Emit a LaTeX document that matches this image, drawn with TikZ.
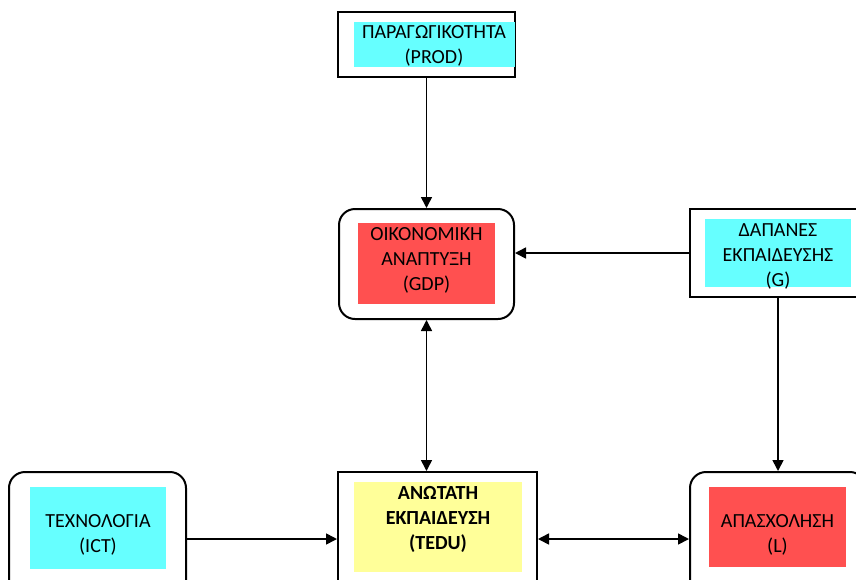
\documentclass[tikz,border=0pt]{standalone}
\usepackage{fontspec}
\setmainfont{Carlito}
\usetikzlibrary{arrows.meta}
\definecolor{cyanfill}{HTML}{66FFFF}
\definecolor{redfill}{HTML}{FF5050}
\definecolor{yellowfill}{HTML}{FFFF99}
\tikzset{
  outerbox/.style={draw=black, line width=2pt, fill=white, inner sep=0pt},
  roundbox/.style={outerbox, rounded corners=16pt},
  fillbox/.style={inner sep=0pt, draw=none},
  txt/.style={align=center, inner sep=0pt, font=\fontsize{20}{25}\selectfont},
  arr/.style={line width=1.6pt, -{Triangle[length=11pt,width=11pt]}},
  darr/.style={line width=1.6pt, {Triangle[length=11pt,width=11pt]}-{Triangle[length=11pt,width=11pt]}}
}
\begin{document}
\begin{tikzpicture}[x=1pt,y=-1pt]
\useasboundingbox (0,0) rectangle (856,579);
\clip (0,0) rectangle (856,579);
\fill[white] (0,0) rectangle (856,579);

% outer boxes
\node[outerbox, minimum width=177pt, minimum height=65pt] (prod) at (426.5,44.5) {};
\node[roundbox, minimum width=175pt, minimum height=110pt] (gdp) at (426.5,264) {};
\node[outerbox, minimum width=176pt, minimum height=88pt] (g) at (778,253) {};
\node[roundbox, minimum width=177pt, minimum height=134pt] (ict) at (97.5,539) {};
\node[outerbox, minimum width=199pt, minimum height=134pt] (tedu) at (437.5,539) {};
\node[roundbox, minimum width=176pt, minimum height=134pt] (l) at (778,539) {};

% coloured fills
\node[fillbox, fill=cyanfill, minimum width=161pt, minimum height=45pt] (prodfill) at (434.5,44.5) {};
\node[fillbox, fill=redfill, minimum width=137pt, minimum height=81pt] (gdpfill) at (426.5,263.5) {};
\node[fillbox, fill=cyanfill, minimum width=146pt, minimum height=68pt] (gfill) at (778,253) {};
\node[fillbox, fill=cyanfill, minimum width=136pt, minimum height=82pt] (ictfill) at (98,528) {};
\node[fillbox, fill=yellowfill, minimum width=168pt, minimum height=90pt] (tedufill) at (438,527) {};
\node[fillbox, fill=redfill, minimum width=137pt, minimum height=80pt] (lfill) at (777.5,527) {};

% texts
\node[txt] (prodtxt) at (434,45.5) {ΠΑΡΑΓΩΓΙΚΟΤΗΤΑ\\(PROD)};
\node[txt] (gdptxt) at (426.5,260) {ΟΙΚΟΝΟΜΙΚΗ\\ΑΝΑΠΤΥΞΗ\\(GDP)};
\node[txt] (gtxt) at (778,256) {ΔΑΠΑΝΕΣ\\ΕΚΠΑΙΔΕΥΣΗΣ\\(G)};
\node[txt] (icttxt) at (98,535) {ΤΕΧΝΟΛΟΓΙΑ\\(ICT)};
\node[txt, font=\fontsize{20}{25}\selectfont\bfseries] (tedutxt) at (438,519) {ΑΝΩΤΑΤΗ\\ΕΚΠΑΙΔΕΥΣΗ\\(TEDU)};
\node[txt] (ltxt) at (777.5,535) {ΑΠΑΣΧΟΛΗΣΗ\\(L)};

% connectors
\draw[arr] (prod.south) -- (gdp.north);
\draw[arr] (g.west) -- (g.west -| gdp.east);
\draw[darr] (gdp.south) -- (gdp.south |- tedu.north);
\draw[arr] (g.south) -- (l.north);
\draw[arr] (ict.east) -- (tedu.west);
\draw[darr] (tedu.east) -- (l.west);
\end{tikzpicture}
\end{document}
